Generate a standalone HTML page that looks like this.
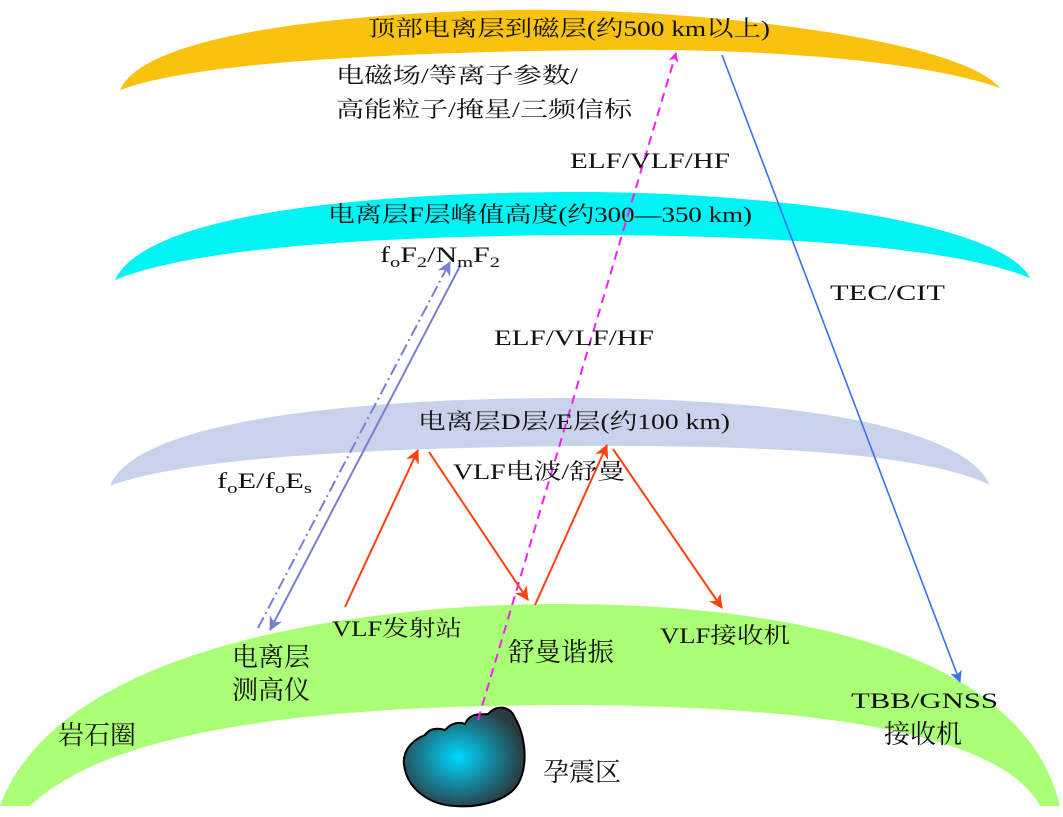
<!DOCTYPE html>
<html><head><meta charset="utf-8"><style>
body{margin:0;background:#fff}
svg text{font-family:"Liberation Serif","Noto Serif CJK SC",serif;font-size:22px;fill:#111}
svg text.c{font-size:26px}
</style></head><body>
<svg width="1063" height="812" viewBox="0 0 1063 812" xmlns="http://www.w3.org/2000/svg">
<defs>
<radialGradient id="g" cx="0.45" cy="0.5" r="0.55"><stop offset="0" stop-color="#00d8ff"/><stop offset="1" stop-color="#2a3a40"/></radialGradient>
<marker id="mm" markerWidth="10" markerHeight="10" refX="9" refY="5" orient="auto" markerUnits="userSpaceOnUse"><path d="M0,0 L10,5 L0,10 L3,5z" fill="#ee22ee"/></marker>
<marker id="mb" markerWidth="12" markerHeight="12" refX="11" refY="6" orient="auto" markerUnits="userSpaceOnUse"><path d="M0,0 L12,6 L0,12 L3,6z" fill="#3d6ef5"/></marker>
<marker id="mp" markerWidth="14" markerHeight="14" refX="13" refY="7" orient="auto" markerUnits="userSpaceOnUse"><path d="M0,0 L14,7 L0,14 L4,7z" fill="#7b7fd0"/></marker>
<marker id="mr" markerWidth="14" markerHeight="14" refX="13" refY="7" orient="auto" markerUnits="userSpaceOnUse"><path d="M0,0 L14,7 L0,14 L4,7z" fill="#ff4010"/></marker>
</defs>
<path d="M120,90 C150,20 450,8 560,10 C720,12 960,40 1000,88 C920,60 760,48 600,50 C420,52 200,60 120,90Z" fill="#f9c20e"/>
<path d="M115,280 C150,205 420,192 580,192 C760,192 1000,220 1030,278 C950,245 760,235 580,235 C400,236 200,245 115,280Z" fill="#00f4f4"/>
<path d="M110,486 C140,410 420,398 570,398 C760,398 960,420 990,485 C920,452 760,445 570,446 C400,448 190,455 110,486Z" fill="#c8d3eb"/>
<path d="M0,806 C60,640 380,604 560,604 C760,604 1020,640 1060,806 L1040,806 C1000,730 800,705 560,705 C360,706 120,720 30,806Z" fill="#aaff77"/>
<path d="M405,770 C400,752 412,740 425,735 C430,728 438,728 445,730 C452,722 460,722 465,724 C470,712 480,715 488,714 C497,704 510,706 515,718 C525,735 528,762 520,780 C512,800 480,808 455,806 C430,805 410,790 405,770Z" fill="url(#g)" stroke="#000" stroke-width="2"/>
<line x1="478" y1="720" x2="676" y2="53" stroke="#ee22ee" stroke-width="2" stroke-dasharray="9,6" marker-end="url(#mm)"/>
<line x1="722" y1="55" x2="960" y2="682" stroke="#3d6ef5" stroke-width="1.6" marker-end="url(#mb)"/>
<line x1="258" y1="628" x2="450" y2="262" stroke="#7b7fd0" stroke-width="2" stroke-dasharray="12,4,2,4" marker-end="url(#mp)"/>
<line x1="460" y1="266" x2="270" y2="630" stroke="#7b7fd0" stroke-width="2" marker-end="url(#mp)"/>
<g stroke="#ff4010" stroke-width="2">
<line x1="345" y1="607" x2="418" y2="450" marker-end="url(#mr)"/>
<line x1="429" y1="452" x2="528" y2="600" marker-end="url(#mr)"/>
<line x1="535" y1="605" x2="607" y2="445" marker-end="url(#mr)"/>
<line x1="613" y1="449" x2="722" y2="608" marker-end="url(#mr)"/>
</g>
<text x="368" y="36" textLength="402" lengthAdjust="spacingAndGlyphs">顶部电离层到磁层(约500 km以上)</text>
<text x="336" y="83" textLength="242" lengthAdjust="spacingAndGlyphs">电磁场/等离子参数/</text>
<text x="336" y="117" textLength="296" lengthAdjust="spacingAndGlyphs">高能粒子/掩星/三频信标</text>
<text x="570" y="168" textLength="160" lengthAdjust="spacingAndGlyphs">ELF/VLF/HF</text>
<text x="328" y="222" textLength="424" lengthAdjust="spacingAndGlyphs">电离层F层峰值高度(约300—350 km)</text>
<text x="380" y="262" textLength="120" lengthAdjust="spacingAndGlyphs">f<tspan font-size="15" dy="5">o</tspan><tspan dy="-5">F</tspan><tspan font-size="15" dy="5">2</tspan><tspan dy="-5">/N</tspan><tspan font-size="15" dy="5">m</tspan><tspan dy="-5">F</tspan><tspan font-size="15" dy="5">2</tspan></text>
<text x="830" y="300" textLength="115" lengthAdjust="spacingAndGlyphs">TEC/CIT</text>
<text x="494" y="345" textLength="160" lengthAdjust="spacingAndGlyphs">ELF/VLF/HF</text>
<text x="418" y="429" textLength="312" lengthAdjust="spacingAndGlyphs">电离层D层/E层(约100 km)</text>
<text x="453" y="479" textLength="172" lengthAdjust="spacingAndGlyphs">VLF电波/舒曼</text>
<text x="217" y="488" textLength="95" lengthAdjust="spacingAndGlyphs">f<tspan font-size="15" dy="5">o</tspan><tspan dy="-5">E/f</tspan><tspan font-size="15" dy="5">o</tspan><tspan dy="-5">E</tspan><tspan font-size="15" dy="5">s</tspan></text>
<text x="332" y="636" textLength="130" lengthAdjust="spacingAndGlyphs">VLF发射站</text>
<text x="660" y="643" textLength="130" lengthAdjust="spacingAndGlyphs">VLF接收机</text>
<text class="c" x="508" y="661" textLength="106" lengthAdjust="spacingAndGlyphs">舒曼谐振</text>
<text class="c" x="232" y="666">电离层</text>
<text class="c" x="232" y="699">测高仪</text>
<text x="851" y="708" textLength="147" lengthAdjust="spacingAndGlyphs">TBB/GNSS</text>
<text class="c" x="884" y="743">接收机</text>
<text class="c" x="58" y="744">岩石圈</text>
<text class="c" x="543" y="781">孕震区</text>
</svg>
</body></html>
